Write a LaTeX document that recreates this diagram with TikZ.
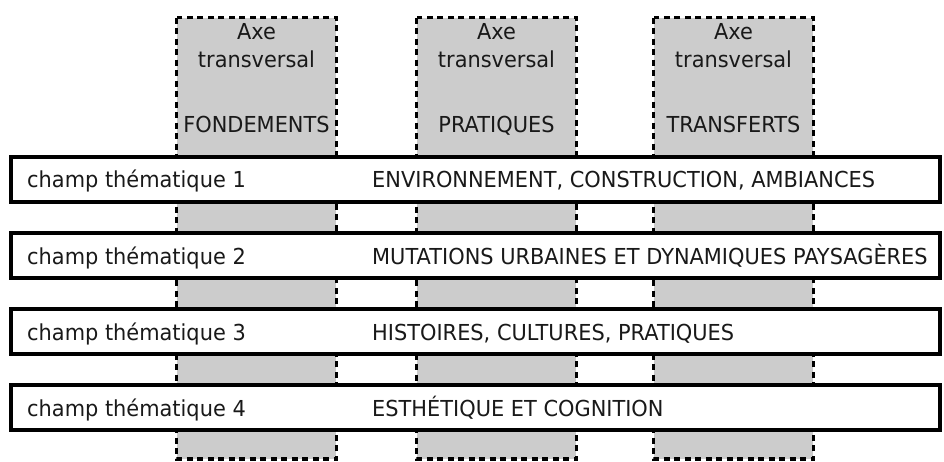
\documentclass[tikz,border=0pt]{standalone}
\usepackage{fontspec}
\setmainfont{DejaVu Sans}[FakeStretch=0.95]
\begin{document}
\begin{tikzpicture}[x=1pt,y=-1pt,
  axebox/.style={draw=black,fill=gray!40!white,line width=3.2pt,dash pattern=on 6pt off 4.5pt},
  champbox/.style={draw=black,fill=white,line width=3.6pt},
  txt/.style={font=\fontsize{22pt}{26pt}\selectfont,inner sep=0pt,text=black!90},
]
\useasboundingbox (0,0) rectangle (944,462);
% columns
\foreach \n/\xa/\lab in {1/175/FONDEMENTS,2/415/PRATIQUES,3/652/TRANSFERTS}{
  \path[axebox] (\xa+1.6,17.6) rectangle (\xa+163-1.6,459);
  \node[txt,anchor=base] (axe\n) at (\xa+81.5,40) {Axe};
  \node[txt,anchor=base] (tr\n) at (\xa+81.5,68) {transversal};
  \node[txt,anchor=base] (lab\n) at (\xa+81.5,133) {\lab};
}
% thematic bars
\foreach \i/\t in {1/{ENVIRONNEMENT, CONSTRUCTION, AMBIANCES},2/{MUTATIONS URBAINES ET DYNAMIQUES PAYSAGÈRES},3/{HISTOIRES, CULTURES, PRATIQUES},4/{ESTHÉTIQUE ET COGNITION}}{
  \pgfmathsetmacro{\yt}{155+76*(\i-1)}
  \path[champbox] (10.8,\yt+1.8) rectangle (940.2,\yt+47.2);
  \node[txt,anchor=base west] (ch\i) at (27,\yt+33) {champ thématique \i};
  \node[txt,anchor=base west] (nm\i) at (372,\yt+33) {\t};
}
\end{tikzpicture}
\end{document}
